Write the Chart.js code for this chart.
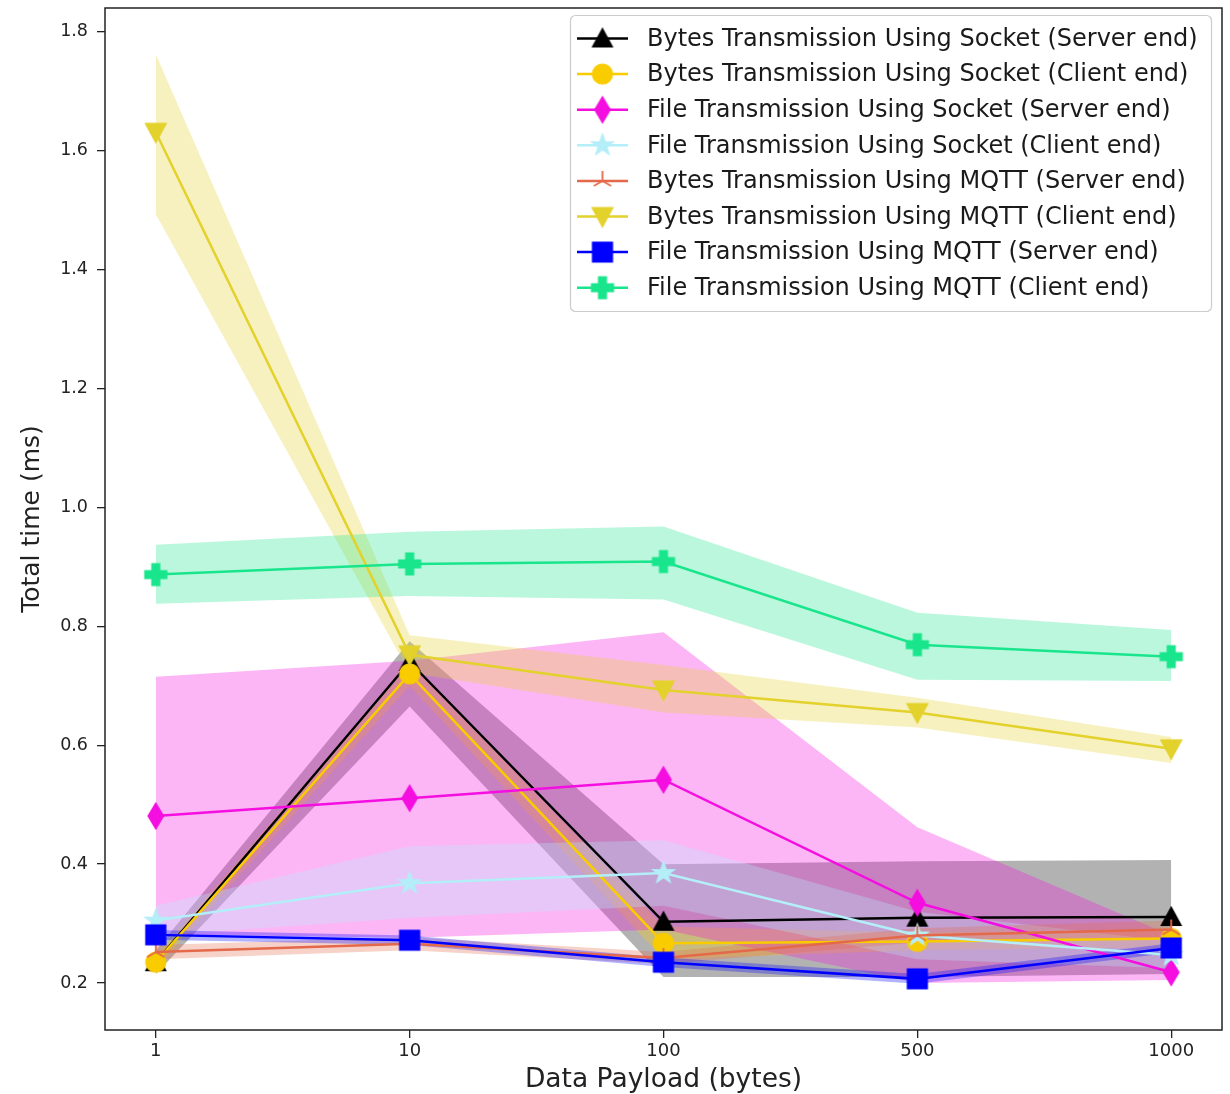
<!DOCTYPE html>
<html>
<head>
<meta charset="utf-8">
<script src="https://cdn.jsdelivr.net/npm/chart.js@4.4.1/dist/chart.umd.min.js"></script>
<style>
  html, body { margin: 0; padding: 0; background: #ffffff; }
  canvas { display: block; }
</style>
</head>
<body>
<canvas id="chart" width="1230" height="1094"></canvas>
<script>
// Payload sizes on the x axis (evenly spaced categories)
const categories = ['1', '10', '100', '500', '1000'];
const yTicks = [0.2, 0.4, 0.6, 0.8, 1.0, 1.2, 1.4, 1.6, 1.8];

const seriesNames = [
  'Bytes Transmission Using Socket (Server end)',
  'Bytes Transmission Using Socket (Client end)',
  'File Transmission Using Socket (Server end)',
  'File Transmission Using Socket (Client end)',
  'Bytes Transmission Using MQTT (Server end)',
  'Bytes Transmission Using MQTT (Client end)',
  'File Transmission Using MQTT (Server end)',
  'File Transmission Using MQTT (Client end)'
];

// Mean total time (ms) per payload, with lower / upper spread
const bytesSocketServer    = [0.235, 0.740, 0.303, 0.310, 0.311];
const bytesSocketServerLo  = [0.215, 0.665, 0.210, 0.210, 0.215];
const bytesSocketServerHi  = [0.255, 0.775, 0.400, 0.405, 0.407];

const bytesSocketClient    = [0.235, 0.720, 0.267, 0.270, 0.275];
const bytesSocketClientLo  = [0.225, 0.700, 0.240, 0.255, 0.260];
const bytesSocketClientHi  = [0.245, 0.740, 0.295, 0.285, 0.290];

const fileSocketServer     = [0.481, 0.511, 0.542, 0.335, 0.218];
const fileSocketServerLo   = [0.282, 0.276, 0.290, 0.200, 0.205];
const fileSocketServerHi   = [0.715, 0.742, 0.790, 0.462, 0.280];

const fileSocketClient     = [0.305, 0.368, 0.385, 0.280, 0.247];
const fileSocketClientLo   = [0.280, 0.310, 0.330, 0.240, 0.225];
const fileSocketClientHi   = [0.330, 0.430, 0.440, 0.320, 0.270];

const bytesMqttServer      = [0.252, 0.266, 0.242, 0.280, 0.290];
const bytesMqttServerLo    = [0.240, 0.255, 0.232, 0.268, 0.275];
const bytesMqttServerHi    = [0.264, 0.277, 0.252, 0.292, 0.305];

const bytesMqttClient      = [1.631, 0.752, 0.693, 0.655, 0.594];
const bytesMqttClientLo    = [1.493, 0.722, 0.655, 0.630, 0.570];
const bytesMqttClientHi    = [1.762, 0.785, 0.735, 0.680, 0.614];

const fileMqttServer       = [0.281, 0.272, 0.235, 0.207, 0.259];
const fileMqttServerLo     = [0.273, 0.264, 0.227, 0.199, 0.251];
const fileMqttServerHi     = [0.289, 0.280, 0.243, 0.215, 0.267];

const fileMqttClient       = [0.887, 0.905, 0.909, 0.769, 0.749];
const fileMqttClientLo     = [0.838, 0.851, 0.845, 0.710, 0.708];
const fileMqttClientHi     = [0.937, 0.959, 0.968, 0.823, 0.794];

const means  = [bytesSocketServer, bytesSocketClient, fileSocketServer, fileSocketClient,
                bytesMqttServer, bytesMqttClient, fileMqttServer, fileMqttClient];
const lows   = [bytesSocketServerLo, bytesSocketClientLo, fileSocketServerLo, fileSocketClientLo,
                bytesMqttServerLo, bytesMqttClientLo, fileMqttServerLo, fileMqttClientLo];
const highs  = [bytesSocketServerHi, bytesSocketClientHi, fileSocketServerHi, fileSocketClientHi,
                bytesMqttServerHi, bytesMqttClientHi, fileMqttServerHi, fileMqttClientHi];

const colors = ['#000000', '#f9cc00', '#f50ee0', '#b4eef8', '#e4694a', '#e3d12c', '#0000ff', '#19e68c'];
const shapes = ['triUp', 'circle', 'thinDiamond', 'star', 'tri', 'triDown', 'square', 'plus'];

// ---- marker sprites ----
function makeMarker(shape, color) {
  const S = 30;
  const c = document.createElement('canvas');
  c.width = S; c.height = S;
  const g = c.getContext('2d');
  g.translate(S / 2, S / 2);
  g.fillStyle = color;
  g.strokeStyle = color;
  g.lineWidth = 1.2;
  g.lineJoin = 'miter';
  g.beginPath();
  let r;
  switch (shape) {
    case 'triUp':
      r = 10;
      g.moveTo(0, -r); g.lineTo(r, r * 0.85); g.lineTo(-r, r * 0.85); g.closePath();
      break;
    case 'triDown':
      r = 10.5;
      g.moveTo(0, r); g.lineTo(r, -r * 0.85); g.lineTo(-r, -r * 0.85); g.closePath();
      break;
    case 'circle':
      g.arc(0, 0, 10, 0, Math.PI * 2);
      break;
    case 'thinDiamond':
      r = 13;
      g.moveTo(0, -r); g.lineTo(r * 0.6, 0); g.lineTo(0, r); g.lineTo(-r * 0.6, 0); g.closePath();
      break;
    case 'star': {
      r = 11.5;
      const ri = r * 0.4;
      for (let k = 0; k < 10; k++) {
        const a = -Math.PI / 2 + k * Math.PI / 5;
        const rr = k % 2 === 0 ? r : ri;
        const px = Math.cos(a) * rr, py = Math.sin(a) * rr;
        if (k === 0) g.moveTo(px, py); else g.lineTo(px, py);
      }
      g.closePath();
      break;
    }
    case 'square':
      g.rect(-10, -10, 20, 20);
      break;
    case 'plus': {
      r = 11; const w = r * 0.36;
      g.moveTo(-w, -r); g.lineTo(w, -r); g.lineTo(w, -w); g.lineTo(r, -w); g.lineTo(r, w);
      g.lineTo(w, w); g.lineTo(w, r); g.lineTo(-w, r); g.lineTo(-w, w); g.lineTo(-r, w);
      g.lineTo(-r, -w); g.lineTo(-w, -w); g.closePath();
      break;
    }
    case 'tri':
      r = 10;
      g.lineWidth = 1.8;
      g.moveTo(0, 0); g.lineTo(0, -r);
      g.moveTo(0, 0); g.lineTo(-r * 0.866, r * 0.5);
      g.moveTo(0, 0); g.lineTo(r * 0.866, r * 0.5);
      g.stroke();
      return c;
  }
  g.fill();
  g.stroke();
  return c;
}

function rgba(hex, a) {
  const n = parseInt(hex.slice(1), 16);
  return `rgba(${(n >> 16) & 255},${(n >> 8) & 255},${n & 255},${a})`;
}

const markers = shapes.map((s, i) => makeMarker(s, colors[i]));
const toPoints = arr => arr.map((v, i) => ({ x: i, y: v }));

// ---- datasets: shaded spread bands (upper filled down to lower), then lines ----
const datasets = [];
means.forEach((m, i) => {
  datasets.push({
    label: '_band_hi_' + i,
    data: toPoints(highs[i]),
    borderWidth: 0,
    borderColor: 'rgba(0,0,0,0)',
    pointRadius: 0,
    backgroundColor: rgba(colors[i], 0.3),
    fill: '+1',
    order: 100 - i
  });
  datasets.push({
    label: '_band_lo_' + i,
    data: toPoints(lows[i]),
    borderWidth: 0,
    borderColor: 'rgba(0,0,0,0)',
    pointRadius: 0,
    fill: false,
    order: 100 - i
  });
});
means.forEach((m, i) => {
  datasets.push({
    label: seriesNames[i],
    data: toPoints(m),
    borderColor: colors[i],
    backgroundColor: colors[i],
    borderWidth: 2.5,
    pointStyle: markers[i],
    pointRadius: 10,
    pointHoverRadius: 10,
    fill: false,
    tension: 0,
    order: -i
  });
});

// Frame around the plotting area
const framePlugin = {
  id: 'frame',
  afterDatasetsDraw(chart) {
    const { ctx, chartArea: a } = chart;
    ctx.save();
    ctx.strokeStyle = '#222222';
    ctx.lineWidth = 1.5;
    ctx.strokeRect(a.left, a.top, a.right - a.left, a.bottom - a.top);
    ctx.restore();
  }
};

// Legend box with line + marker handles
const legendPlugin = {
  id: 'lineMarkerLegend',
  afterDraw(chart) {
    const ctx = chart.ctx;
    const box = { x: 570.5, y: 15.5, w: 641, h: 296, r: 5 };
    ctx.save();
    ctx.beginPath();
    ctx.roundRect(box.x, box.y, box.w, box.h, box.r);
    ctx.fillStyle = 'rgba(255,255,255,0.85)';
    ctx.fill();
    ctx.strokeStyle = '#cccccc';
    ctx.lineWidth = 1.2;
    ctx.stroke();
    ctx.font = '24px "DejaVu Sans"';
    ctx.textBaseline = 'middle';
    ctx.textAlign = 'left';
    seriesNames.forEach((name, i) => {
      const y = 38.5 + i * 35.6;
      ctx.strokeStyle = colors[i];
      ctx.lineWidth = 2.5;
      ctx.beginPath();
      ctx.moveTo(577, y);
      ctx.lineTo(628, y);
      ctx.stroke();
      const mk = markers[i];
      ctx.drawImage(mk, 602.5 - mk.width / 2, y - mk.height / 2);
      ctx.fillStyle = '#1a1a1a';
      ctx.fillText(name, 647, y + 1);
    });
    ctx.restore();
  }
};

new Chart(document.getElementById('chart'), {
  type: 'line',
  data: { datasets },
  options: {
    responsive: false,
    animation: false,
    devicePixelRatio: 1,
    layout: { autoPadding: false, padding: { left: 0, right: 8, top: 8, bottom: 0 } },
    plugins: {
      legend: { display: false },
      tooltip: { enabled: false },
      filler: { drawTime: 'beforeDatasetsDraw', propagate: false }
    },
    scales: {
      x: {
        type: 'linear',
        min: -0.2,
        max: 4.2,
        afterBuildTicks(scale) { scale.ticks = categories.map((_, i) => ({ value: i })); },
        afterFit(scale) { scale.height = 64; scale.paddingLeft = 0; scale.paddingRight = 0; },
        ticks: {
          callback: v => categories[v],
          font: { family: 'DejaVu Sans', size: 18 },
          color: '#222222',
          padding: 3,
          maxRotation: 0,
          autoSkip: false
        },
        grid: { display: true, drawOnChartArea: false, drawTicks: true, tickLength: 8, color: '#222222', lineWidth: 1.3 },
        border: { display: false },
        title: {
          display: true,
          text: 'Data Payload (bytes)',
          font: { family: 'DejaVu Sans', size: 26.5, lineHeight: 1 },
          color: '#222222',
          padding: { top: 0, bottom: 1 }
        }
      },
      y: {
        type: 'linear',
        min: 0.121,
        max: 1.84,
        afterBuildTicks(scale) { scale.ticks = yTicks.map(v => ({ value: v })); },
        afterFit(scale) { scale.width = 105; scale.paddingTop = 0; scale.paddingBottom = 0; },
        ticks: {
          callback: v => v.toFixed(1),
          font: { family: 'DejaVu Sans', size: 17.5 },
          color: '#222222',
          padding: 9,
          autoSkip: false
        },
        grid: { display: true, drawOnChartArea: false, drawTicks: true, tickLength: 8, color: '#222222', lineWidth: 1.3 },
        border: { display: false },
        title: {
          display: true,
          text: 'Total time (ms)',
          font: { family: 'DejaVu Sans', size: 25, lineHeight: 1 },
          color: '#222222',
          padding: { top: 20, bottom: 0 }
        }
      }
    }
  },
  plugins: [framePlugin, legendPlugin]
});
</script>
</body>
</html>
